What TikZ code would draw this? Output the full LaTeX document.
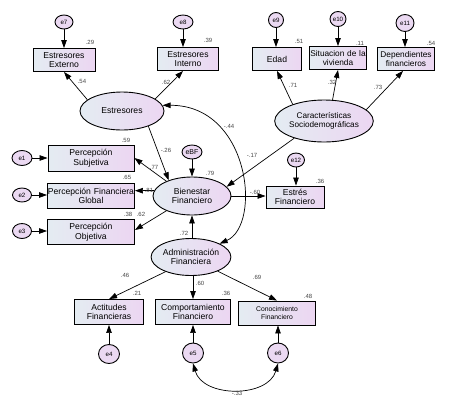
\documentclass[tikz,border=0pt]{standalone}
\usepackage{fontspec}
\setmainfont{Liberation Sans}
\usetikzlibrary{shapes.geometric,arrows.meta}
\definecolor{lc}{RGB}{228,236,242}
\definecolor{rc}{RGB}{236,214,242}
\definecolor{cg}{RGB}{70,70,70}
\begin{document}
\begin{tikzpicture}[x=1pt,y=-1pt,
  obs/.style={draw,line width=0.9pt,rectangle,left color=lc,right color=rc,inner sep=0pt,align=center,font=\fontsize{8.6}{9.6}\selectfont},
  lat/.style={draw,line width=0.9pt,ellipse,left color=lc,right color=rc,inner sep=0pt,align=center,font=\fontsize{8.6}{9.6}\selectfont},
  err/.style={draw,line width=0.9pt,ellipse,fill=rc!85!lc,inner sep=0pt,font=\fontsize{6.2}{7}\selectfont},
  coef/.style={font=\fontsize{6}{7}\selectfont,text=cg,inner sep=0pt},
  arr/.style={line width=0.7pt,-{Triangle[length=8pt,width=5.5pt]}},
  darr/.style={line width=0.7pt,{Triangle[length=8pt,width=5.5pt]}-{Triangle[length=8pt,width=5.5pt]}}]
\useasboundingbox[fill=white] (0,0) rectangle (449,405);
% latent
\node[lat,minimum width=84pt,minimum height=38pt] (estr) at (122,111) {Estresores};
\node[lat,minimum width=78pt,minimum height=42pt,font=\fontsize{8.2}{9.4}\selectfont] (soc) at (324,121) {Características\\Sociodemográficas};
\node[lat,minimum width=78pt,minimum height=38pt] (bf) at (192,196) {Bienestar\\Financiero};
\node[lat,minimum width=78pt,minimum height=37pt] (adm) at (191,257) {Administración\\Financiera};
% observed
\node[obs,minimum width=62pt,minimum height=23pt] (ee) at (64,60) {Estresores\\Externo};
\node[obs,minimum width=61pt,minimum height=23pt] (ei) at (188,59) {Estresores\\Interno};
\node[obs,minimum width=49pt,minimum height=23pt] (edad) at (277,59) {Edad};
\node[obs,minimum width=57pt,minimum height=23pt,text width=57pt,font=\fontsize{8.3}{9.4}\selectfont] (sit) at (338,58) {Situacion de la\\vivienda};
\node[obs,minimum width=57pt,minimum height=23pt,text width=57pt,font=\fontsize{8.3}{9.4}\selectfont] (dep) at (406,59) {Dependientes\\financieros};
\node[obs,minimum width=86pt,minimum height=26pt] (ps) at (91,158) {Percepción\\Subjetiva};
\node[obs,minimum width=87pt,minimum height=25pt,text width=87pt] (pg) at (91,196) {Percepción Financiera\\Global};
\node[obs,minimum width=87pt,minimum height=25pt] (po) at (91,232) {Percepción\\Objetiva};
\node[obs,minimum width=58pt,minimum height=22pt] (ef) at (295,197) {Estrés\\Financiero};
\node[obs,minimum width=69pt,minimum height=25pt] (af) at (109,312) {Actitudes\\Financieras};
\node[obs,minimum width=75pt,minimum height=25pt] (cf) at (193,312) {Comportamiento\\Financiero};
\node[obs,minimum width=77pt,minimum height=24pt,font=\fontsize{6.8}{8.2}\selectfont] (kf) at (277,313) {Conocimiento\\Financiero};
% errors
\node[err,minimum width=18pt,minimum height=14pt] (e7) at (64,22) {e7};
\node[err,minimum width=20pt,minimum height=14pt] (e8) at (183,22) {e8};
\node[err,minimum width=15pt,minimum height=15pt] (e9) at (276,20) {e9};
\node[err,minimum width=16pt,minimum height=15pt] (e10) at (338,19) {e10};
\node[err,minimum width=18pt,minimum height=17pt] (e11) at (405,23) {e11};
\node[err,minimum width=17pt,minimum height=14pt] (e12) at (296,160) {e12};
\node[err,minimum width=20pt,minimum height=14pt,font=\fontsize{7}{8}\selectfont] (ebf) at (192,152) {eBF};
\node[err,minimum width=20pt,minimum height=15pt] (e1) at (22,158) {e1};
\node[err,minimum width=19pt,minimum height=14pt] (e2) at (22,195) {e2};
\node[err,minimum width=19pt,minimum height=15pt] (e3) at (22,231) {e3};
\node[err,minimum width=21pt,minimum height=19pt] (e4) at (109,354) {e4};
\node[err,minimum width=21pt,minimum height=20pt] (e5) at (193,353) {e5};
\node[err,minimum width=21pt,minimum height=20pt] (e6) at (278,353) {e6};
% error arrows
\draw[arr] (e7) -- (ee);
\draw[arr] (e8) -- (ei.north -| e8);
\draw[arr] (e9) -- (edad.north -| e9);
\draw[arr] (e10) -- (sit.north -| e10);
\draw[arr] (e11) -- (dep.north -| e11);
\draw[arr] (e12) -- (ef.north -| e12);
\draw[arr] (ebf) -- (bf);
\draw[arr] (e1) -- (ps.west |- e1);
\draw[arr] (e2) -- (pg.west |- e2);
\draw[arr] (e3) -- (po.west |- e3);
\draw[arr] (e4) -- (af);
\draw[arr] (e5) -- (cf);
\draw[arr] (e6) -- (kf.south -| e6);
% structural arrows
\coordinate (dtip) at (403,0);
\draw[arr] (estr.162) -- (ee.south);
\draw[arr] (estr.20) -- (ei.south -| e8);
\draw[arr] (soc.152) -- (edad.south);
\draw[arr] (soc.68) -- (sit.south);
\draw[arr] (soc.15) -- (dep.south -| dtip);
\draw[arr] (estr.-30) -- (bf.146);
\draw[arr] (soc.-150) -- (bf.15);
\draw[arr] (bf.east) -- (ef.west |- bf.east);
\draw[arr] (adm.north -| bf) -- (bf.south);
\draw[arr] (bf.150) -- (ps.east |- 0,158);
\draw[arr] (bf.172) -- (pg.east |- bf.172);
\draw[arr] (bf.-150) -- (po.east |- 0,230);
\draw[arr] (adm.-150) -- (af.north);
\draw[arr] (adm.south -| cf) -- (cf.north);
\draw[arr] (adm.-28) -- (kf.north);
% covariances
\coordinate (c1) at (250,105);
\coordinate (c2) at (262,225);
\draw[darr] (estr.8) .. controls (c1) and (c2) .. (adm.25);
\coordinate (c3) at (203,398);
\coordinate (c4) at (268,398);
\draw[darr] (e5.south) .. controls (c3) and (c4) .. (e6.south);
% coefficients
\node[coef] (k1) at (90,42) {.29};
\node[coef] (k2) at (208,40) {.39};
\node[coef] (k3) at (82,81) {.54};
\node[coef] (k4) at (166,82) {.62};
\node[coef] (k5) at (299,41) {.51};
\node[coef] (k6) at (360,43) {.11};
\node[coef] (k7) at (431,43) {.54};
\node[coef] (k8) at (293,85) {.71};
\node[coef] (k9) at (332,82) {.32};
\node[coef] (k10) at (378,87) {.73};
\node[coef] (k11) at (229,126) {-.44};
\node[coef] (k12) at (126,140) {.59};
\node[coef] (k13) at (166,150) {-.26};
\node[coef] (k14) at (210,173) {.79};
\node[coef] (k15) at (154,167) {.77};
\node[coef] (k16) at (127,177) {.65};
\node[coef] (k17) at (149,190) {.81};
\node[coef] (k18) at (128,214) {.38};
\node[coef] (k19) at (141,214) {.62};
\node[coef] (k20) at (184,233) {.72};
\node[coef] (k21) at (252,155) {-.17};
\node[coef] (k22) at (255,192) {-.60};
\node[coef] (k23) at (320,181) {.36};
\node[coef] (k24) at (125,275) {.46};
\node[coef] (k25) at (137,293) {.21};
\node[coef] (k26) at (200,283) {.60};
\node[coef] (k27) at (226,293) {.36};
\node[coef] (k28) at (257,277) {.69};
\node[coef] (k29) at (308,296) {.48};
\node[coef] (k30) at (237,393) {-.33};
\end{tikzpicture}
\end{document}
